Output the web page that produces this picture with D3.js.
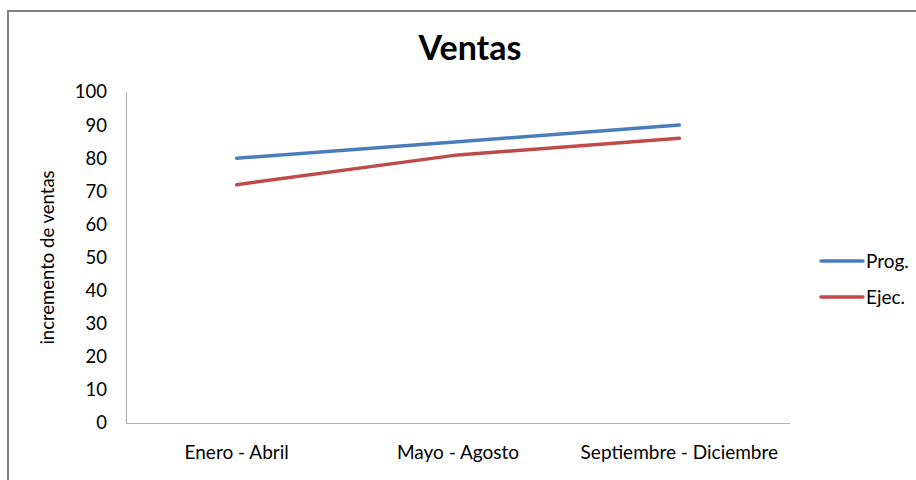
<!DOCTYPE html>
<html>
<head>
<meta charset="utf-8">
<script src="https://cdn.jsdelivr.net/npm/d3@7"></script>
<style>
  body { margin: 0; background: #fff; }
  svg text { font-family: Lato, "Open Sans", sans-serif; fill: #000; }
</style>
</head>
<body>
<svg width="916" height="480"></svg>
<script>
// data
const periodos = ["Enero - Abril", "Mayo - Agosto", "Septiembre - Diciembre"];
const prog = [80, 85, 90];
const ejec = [72, 81, 86];
const yTicks = [0, 10, 20, 30, 40, 50, 60, 70, 80, 90, 100];

const svg = d3.select("svg"),
    width = +svg.attr("width"),
    height = +svg.attr("height");

// outer frame (only top and left edges are in view)
svg.append("path")
    .attr("d", `M8,${height} V11 H${width}`)
    .attr("fill", "none")
    .attr("stroke", "#808080")
    .attr("stroke-width", 2);

const margin = {left: 126, right: 126, top: 92, bottom: 57};

const x = d3.scaleBand()
    .domain(periodos)
    .range([margin.left, width - margin.right]);

const y = d3.scaleLinear()
    .domain([0, 100])
    .range([height - margin.bottom, margin.top]);

// axes
const yAxis = svg.append("g")
    .attr("transform", `translate(${margin.left},0)`)
    .call(d3.axisLeft(y).tickValues(yTicks).tickSize(0).tickPadding(19));
yAxis.select(".domain").attr("stroke", "#b3b3b3").attr("stroke-width", 1.2);
yAxis.selectAll("text").style("font-size", "18.5px").style("font-family", "Lato, sans-serif").attr("fill", "#000");

const xAxis = svg.append("g")
    .attr("transform", `translate(0,${height - margin.bottom})`)
    .call(d3.axisBottom(x).tickSize(0).tickPadding(23));
xAxis.select(".domain").attr("stroke", "#b3b3b3").attr("stroke-width", 1.2);
xAxis.selectAll("text").style("font-size", "19px").style("font-family", "Lato, sans-serif").attr("fill", "#000");

// title
svg.append("text")
    .attr("x", 470)
    .attr("y", 60)
    .attr("text-anchor", "middle")
    .style("font-size", "34px")
    .style("font-weight", "bold")
    .text("Ventas");

// y label
svg.append("text")
    .attr("transform", `translate(54,${(y(0) + y(100)) / 2}) rotate(-90)`)
    .attr("text-anchor", "middle")
    .style("font-size", "18.5px")
    .text("incremento de ventas");

// lines
const series = [
  {name: "Prog.", values: prog, color: "#4a7ebb"},
  {name: "Ejec.", values: ejec, color: "#be4b48"}
];

const line = d3.line()
    .x((d, i) => x(periodos[i]) + x.bandwidth() / 2)
    .y(d => y(d));

svg.selectAll("path.serie")
  .data(series)
  .join("path")
    .attr("class", "serie")
    .attr("d", d => line(d.values))
    .attr("fill", "none")
    .attr("stroke", d => d.color)
    .attr("stroke-width", 3.5)
    .attr("stroke-linecap", "round");

// legend
const legend = svg.selectAll("g.leg")
  .data(series)
  .join("g")
    .attr("class", "leg")
    .attr("transform", (d, i) => `translate(821,${261 + i * 36})`);

legend.append("line")
    .attr("x1", 0).attr("x2", 42)
    .attr("stroke", d => d.color)
    .attr("stroke-width", 3.5)
    .attr("stroke-linecap", "round");

legend.append("text")
    .attr("x", 45)
    .attr("dy", "0.35em")
    .style("font-size", "19px")
    .text(d => d.name);
</script>
</body>
</html>
